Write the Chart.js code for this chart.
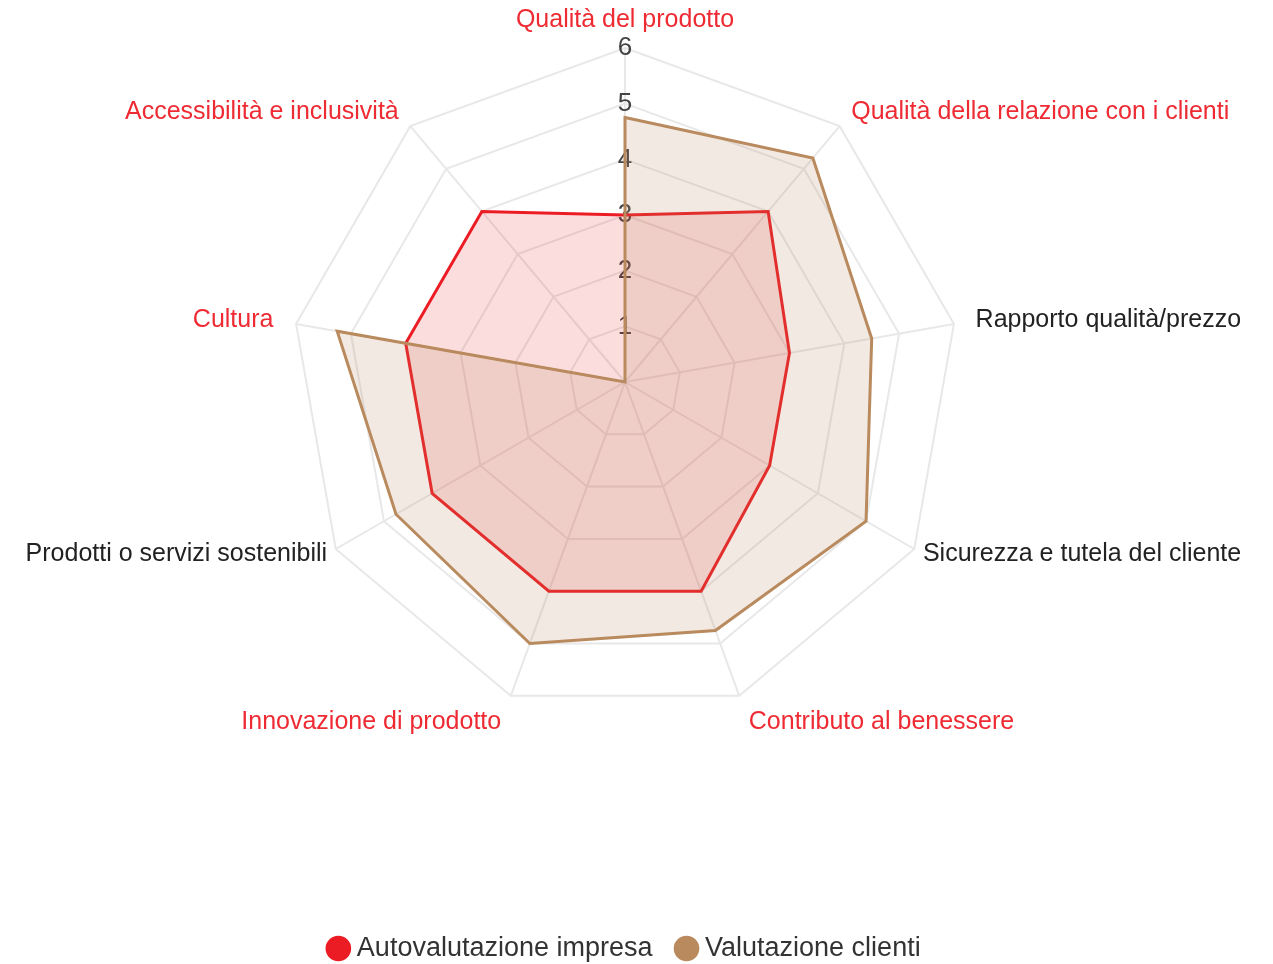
<!DOCTYPE html>
<html>
<head>
<meta charset="utf-8">
<script src="https://cdn.jsdelivr.net/npm/chart.js@4/dist/chart.umd.min.js"></script>
<style>
  html, body { margin: 0; background: #fff; }
  #wrap { width: 1273px; height: 964px; }
</style>
</head>
<body>
<div id="wrap"><canvas id="radarChart"></canvas></div>
<script>
// --- dati ---
const categorie = [
  'Qualità del prodotto',
  'Qualità della relazione con i clienti',
  'Rapporto qualità/prezzo',
  'Sicurezza e tutela del cliente',
  'Contributo al benessere',
  'Innovazione di prodotto',
  'Prodotti o servizi sostenibili',
  'Cultura',
  'Accessibilità e inclusività'
];
const autovalutazione = [3, 4, 3, 3, 4, 4, 4, 4, 4];
const valutazioneClienti = [4.75, 5.25, 4.5, 5, 4.75, 5, 4.75, 5.25, 0];

// --- stile ---
const coloreEtichette = ['#ee2a33', '#ee2a33', '#222', '#222', '#ee2a33', '#ee2a33', '#222', '#ee2a33', '#ee2a33'];
const distanzaEtichette = [13, 3, 7, -5, 13, 13, -5, 8, 3]; // padding delle etichette per asse
const ROSSO = '#ec1c24';
const MARRONE = '#b98a5e';
const FONT = 'Liberation Sans, Arial, sans-serif';

const ctx = document.getElementById('radarChart').getContext('2d');
new Chart(ctx, {
  type: 'radar',
  data: {
    labels: categorie,
    datasets: [
      {
        label: 'Autovalutazione impresa',
        data: autovalutazione,
        borderColor: ROSSO,
        backgroundColor: 'rgba(236,28,36,0.15)',
        borderWidth: 3,
        pointRadius: 0,
        pointBackgroundColor: ROSSO,
        pointBorderColor: ROSSO,
        order: 1
      },
      {
        label: 'Valutazione clienti',
        data: valutazioneClienti,
        borderColor: MARRONE,
        backgroundColor: 'rgba(185,138,94,0.18)',
        borderWidth: 3,
        pointRadius: 0,
        pointBackgroundColor: MARRONE,
        pointBorderColor: MARRONE,
        order: 0
      }
    ]
  },
  options: {
    responsive: true,
    maintainAspectRatio: false,
    animation: false,
    layout: { padding: { top: 14, right: 19, left: 0, bottom: -8 } },
    elements: { line: { tension: 0 } },
    scales: {
      r: {
        min: 0,
        max: 6,
        ticks: {
          stepSize: 1,
          showLabelBackdrop: false,
          color: '#444',
          font: { family: FONT, size: 26 }
        },
        grid: { color: '#e8e8e8', lineWidth: 2 },
        angleLines: { color: '#e8e8e8', lineWidth: 2 },
        pointLabels: {
          padding: (c) => distanzaEtichette[c.index],
          color: (c) => coloreEtichette[c.index],
          font: { family: FONT, size: 25, lineHeight: 0 }
        }
      }
    },
    plugins: {
      tooltip: { enabled: false },
      legend: {
        position: 'bottom',
        // titolo vuoto: solo spazio tra il radar e la legenda
        title: { display: true, text: '', font: { size: 10 }, padding: { top: 156, bottom: 0 } },
        labels: {
          usePointStyle: true,
          pointStyle: 'circle',
          boxHeight: 16,
          boxWidth: 10,
          padding: 29,
          color: '#333',
          font: { family: FONT, size: 27 },
          sort: (a, b) => a.datasetIndex - b.datasetIndex
        }
      }
    }
  }
});
</script>
</body>
</html>
